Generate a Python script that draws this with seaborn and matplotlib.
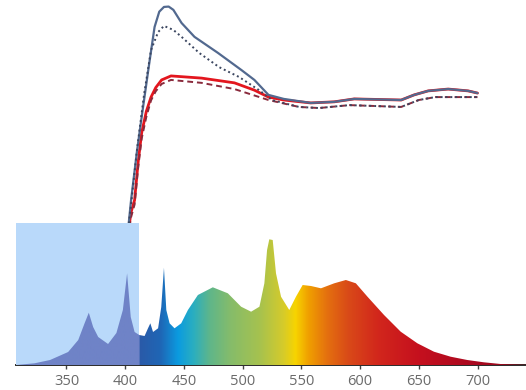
import numpy as np
import matplotlib
matplotlib.use("Agg")
import matplotlib.pyplot as plt
import seaborn as sns
from matplotlib.colors import LinearSegmentedColormap
from matplotlib.patches import Rectangle

# ---------------- data ----------------
# Lamp emission spectrum (arbitrary units)
spec_nm = [307, 322.8, 336, 351.4, 360, 365.5, 369, 372.7, 377, 385.4, 392.5, 398, 401.6, 404.7,
           408, 412, 416.5, 419.4, 421.4, 423.7, 428, 430.7, 433, 435, 437.8, 442, 447.7, 453.4,
           461.9, 474.6, 487.4, 498.7, 507.2, 514.3, 518.5, 520.8, 522.7, 525.6, 528.4, 532.7,
           539.7, 545.4, 551.1, 558.2, 566.7, 578, 587.9, 596.4, 606.3, 620.4, 634.6, 648.8,
           662.9, 677.1, 691.3, 705.4, 719.6, 741]
spec_val = [0, 1.7, 5, 13, 25, 42, 52.3, 38, 28, 21, 32, 55, 91.7, 48,
            33, 30, 29, 36.7, 41.7, 33, 36.7, 58, 97.3, 55, 41.7, 36.7, 41.7, 55,
            70, 77.7, 71.7, 58.3, 53.3, 58.3, 81.7, 115, 125.7, 125, 91.7, 68.3,
            55, 68.3, 80, 79, 76.7, 81.7, 85, 81.7, 68.3, 50, 33.3, 21.7,
            13.3, 8.3, 5, 2.7, 1, 0.2]

# Transmission curves (%)
blue_nm = [396, 403, 405, 410, 414, 420, 425, 429, 433, 437, 441, 448, 459, 479, 499, 510, 522,
           535, 558, 578, 595, 635, 646, 658, 675, 692, 700]
blue_val = [23, 38.9, 45.2, 58.5, 67.9, 81.6, 92.6, 96.8, 98.1, 98.2, 97.3, 93.7, 89.9, 85.5,
            80.8, 78.1, 74.0, 72.9, 71.8, 72.1, 72.9, 72.6, 74.0, 75.1, 75.6, 75.1, 74.5]

blue_dot_nm = [396, 403, 405, 410, 416, 422, 428, 433, 441, 448, 463, 480, 497, 514, 525, 548,
               565, 591, 635, 650, 664, 700]
blue_dot_val = [23, 38.5, 44.0, 58.9, 74.0, 86.3, 91.2, 92.9, 91.8, 89.9, 85.5, 81.6, 78.9, 75.3,
                72.6, 70.7, 70.4, 71.2, 70.7, 72.6, 73.4, 73.4]

red_nm = [396, 405, 408, 411, 414, 418, 422, 426, 431, 439, 465, 493, 510, 522, 535, 558, 578,
          595, 635, 646, 658, 675, 692, 700]
red_val = [22, 41.9, 45.2, 55.5, 63.6, 69.5, 73.4, 76.0, 78.1, 79.2, 78.6, 77.3, 75.3, 73.4,
           72.6, 71.8, 72.1, 72.9, 72.6, 74.0, 75.1, 75.6, 75.1, 74.5]

red_dash_nm = [396, 405, 408, 411, 414, 418, 422, 426, 431, 439, 465, 493, 522, 548, 565, 591,
               635, 650, 664, 700]
red_dash_val = [22, 40.5, 44.0, 54.0, 62.0, 68.0, 72.5, 75.0, 77.0, 78.1, 77.3, 75.6, 72.6, 70.7,
                70.4, 71.2, 70.7, 72.6, 73.4, 73.4]

xticks = [350, 400, 450, 500, 550, 600, 650, 700]

# ---------------- figure ----------------
sns.set_theme(style="white")
plt.rcParams['font.family'] = ['Open Sans', 'DejaVu Sans']

XLIM = (307.0, 741.3)
fig = plt.figure(figsize=(5.26, 3.90), dpi=100)
ax = fig.add_axes([16 / 526, 25 / 390, 510 / 526, 365 / 390])
ax.set_xlim(*XLIM)
ax.set_ylim(0, 100)

sns.lineplot(x=red_nm, y=red_val, ax=ax, color="#e3161e", linewidth=2.0, sort=False)
sns.lineplot(x=red_dash_nm, y=red_dash_val, ax=ax, color="#8a2a3c", linewidth=1.4,
             linestyle=(0, (3, 2)), sort=False)
sns.lineplot(x=blue_nm, y=blue_val, ax=ax, color="#52698f", linewidth=1.6, sort=False)
sns.lineplot(x=blue_dot_nm, y=blue_dot_val, ax=ax, color="#3b4660", linewidth=1.4,
             linestyle=(0, (1, 1.5)), sort=False)

for s in ["top", "left", "right"]:
    ax.spines[s].set_visible(False)
ax.spines["bottom"].set_color("#2a2a2a")
ax.spines["bottom"].set_linewidth(1.4)
ax.set_yticks([])
ax.set_xticks(xticks)
ax.set_xticklabels([str(t) for t in xticks])
ax.tick_params(axis="x", bottom=True, length=3, width=1, color="#444444",
               labelsize=10.5, labelcolor="#6a6a6a", pad=3.5)
ax.set_xlabel("")
ax.set_ylabel("")

# spectrum axes on top
ax2 = ax.twinx()
SPEC_TOP = 365
for s in ax2.spines.values():
    s.set_visible(False)
ax2.set_yticks([])
ax2.patch.set_visible(False)

# UV box
ax2.add_patch(Rectangle((XLIM[0], 0), 412 - XLIM[0], 142,
                        facecolor="#b9d9fa", edgecolor="none", zorder=1))

stops = [(XLIM[0], "#6f83c7"), (411.8, "#6f83c7"), (412.2, "#2a5aa8"), (430, "#1f66b5"),
         (445, "#0b9be0"), (458, "#2aaec0"), (472, "#5fb68a"), (490, "#86bc6a"),
         (515, "#a7c24e"), (535, "#d6cb2a"), (545, "#f7d400"), (556, "#f0a000"),
         (572, "#e4700f"), (590, "#d94a18"), (615, "#d2271c"), (650, "#c5101e"),
         (700, "#a80820"), (XLIM[1], "#900818")]
lo, hi = XLIM
cmap = LinearSegmentedColormap.from_list(
    "spec", [((w - lo) / (hi - lo), c) for w, c in stops], N=1024)
grad = np.linspace(0, 1, 1200).reshape(1, -1)
im = ax2.imshow(grad, cmap=cmap, aspect="auto", extent=[lo, hi, 0, SPEC_TOP],
                origin="lower", zorder=2, interpolation="bilinear")
poly = ax2.fill_between(spec_nm, 0, spec_val, facecolor="none", edgecolor="none")
im.set_clip_path(poly.get_paths()[0], ax2.transData)
ax2.set_xlim(*XLIM)
ax2.set_ylim(0, SPEC_TOP)

fig.savefig("out.png", dpi=100)
